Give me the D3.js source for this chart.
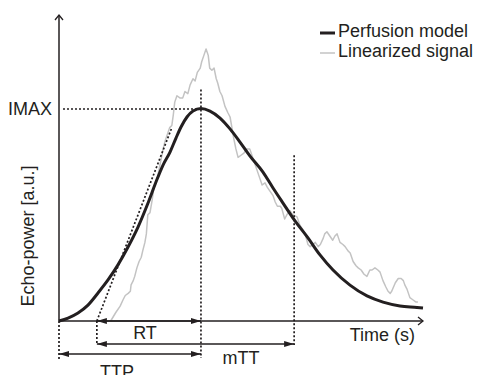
<!DOCTYPE html>
<html>
<head>
<meta charset="utf-8">
<script src="https://cdn.jsdelivr.net/npm/d3@7.9.0/dist/d3.min.js"></script>
<style>
  body { margin: 0; background: #fff; }
  svg text { font-family: "Liberation Sans", Arial, Helvetica, sans-serif; font-size: 18px; fill: #231f20; }
</style>
</head>
<body>
<svg id="chart" width="478" height="375"></svg>
<script>
// perfusion model
const modelTime = [0, 1.24, 2.61, 3.98, 5.36, 6.73, 8.1, 9.48, 10.85, 12.23, 13.32, 14.29, 15.25, 16.07, 16.76,
  17.58, 18.41, 19.5, 20.74, 22.12, 23.49, 24.86, 26.24, 28.02, 29.4, 30.77, 32.42, 34.2, 35.85, 37.64,
  39.97, 42.31, 44.51, 46.84, 49.18, 50];
const modelValue = [0, 0.014, 0.038, 0.075, 0.132, 0.193, 0.264, 0.348, 0.442, 0.555, 0.654, 0.734, 0.795, 0.861, 0.913,
  0.96, 0.988, 1.0, 0.988, 0.955, 0.904, 0.842, 0.776, 0.701, 0.626, 0.555, 0.471, 0.391, 0.311, 0.24,
  0.169, 0.118, 0.089, 0.071, 0.064, 0.061];

// linearized signal
const signalTime = [7.1, 7.8, 8.4, 8.8, 9.1, 9.5, 9.8, 9.9, 10.2, 10.4, 10.7, 11.0, 11.3, 11.5, 11.8, 12.0, 12.2, 12.5,
  12.8, 13.0, 13.5, 13.9, 14.3, 14.6, 14.8, 15.2, 15.5, 15.7, 15.9, 16.2, 16.6, 17.0, 17.3, 17.7, 18.0, 18.4,
  18.7, 19.0, 19.4, 19.6, 19.9, 20.2, 20.5, 20.7, 21.0, 21.3, 21.6, 21.8, 22.1, 22.4, 22.8, 23.2, 23.5, 23.8,
  24.0, 24.3, 24.6, 25.0, 25.4, 25.8, 26.2, 26.7, 27.2, 27.6, 27.9, 28.3, 28.6, 29.0, 29.4, 29.7, 30.0, 30.4,
  30.6, 31.0, 31.3, 31.7, 32.1, 32.7, 33.1, 33.5, 33.8, 34.2, 34.5, 34.9, 35.2, 35.6, 35.9, 36.3, 36.5, 36.8,
  37.2, 37.6, 37.9, 38.2, 38.6, 39.0, 39.3, 39.7, 40.0, 40.4, 40.8, 41.1, 41.5, 41.9, 42.3, 42.7, 43.0, 43.4,
  43.8, 44.1, 44.5, 44.9, 45.2, 45.5, 45.7, 46.2, 46.6, 47.0, 47.3, 47.5, 47.8, 48.2, 48.6, 49.0, 49.3];
const signalValue = [0.00, 0.04, 0.07, 0.10, 0.12, 0.13, 0.14, 0.17, 0.19, 0.21, 0.25, 0.28, 0.30, 0.33, 0.37, 0.41, 0.50, 0.51,
  0.57, 0.62, 0.67, 0.74, 0.81, 0.85, 0.87, 0.91, 0.92, 0.97, 1.03, 1.06, 1.05, 1.05, 1.08, 1.07, 1.11, 1.14,
  1.13, 1.17, 1.19, 1.22, 1.25, 1.28, 1.25, 1.19, 1.18, 1.19, 1.14, 1.12, 1.08, 1.06, 1.01, 0.98, 0.96, 0.90,
  0.86, 0.81, 0.77, 0.78, 0.79, 0.81, 0.81, 0.76, 0.71, 0.67, 0.64, 0.65, 0.63, 0.61, 0.59, 0.56, 0.54, 0.54,
  0.53, 0.48, 0.50, 0.52, 0.50, 0.49, 0.45, 0.43, 0.41, 0.36, 0.35, 0.36, 0.37, 0.35, 0.36, 0.39, 0.41, 0.42,
  0.40, 0.38, 0.40, 0.41, 0.37, 0.36, 0.35, 0.33, 0.32, 0.28, 0.26, 0.25, 0.24, 0.22, 0.21, 0.24, 0.24, 0.25,
  0.24, 0.23, 0.19, 0.16, 0.14, 0.13, 0.14, 0.18, 0.20, 0.20, 0.19, 0.17, 0.15, 0.11, 0.10, 0.09, 0.09];

// annotation values
const imax = 1;
const ttp = 19.5;
const rtStart = 5.2;
const mttEnd = 32.3;
const tangentTime = [5.2, 15.5];
const tangentValue = [0, 0.91];
const legendLabels = ["Perfusion model", "Linearized signal"];

const ink = "#231f20";
const grey = "#c3c3c3";

const x = d3.scaleLinear().domain([0, 50]).range([59, 423]);
const y = d3.scaleLinear().domain([0, 1.44]).range([321, 15]);

const svg = d3.select("#chart");
const defs = svg.append("defs");

defs.append("marker")
  .attr("id", "head")
  .attr("markerUnits", "userSpaceOnUse")
  .attr("markerWidth", 10).attr("markerHeight", 6)
  .attr("refX", 10).attr("refY", 3)
  .attr("orient", "auto-start-reverse")
  .append("path").attr("d", "M0,0L10,3L0,6Z").attr("fill", ink);

defs.append("marker")
  .attr("id", "chev")
  .attr("markerUnits", "userSpaceOnUse")
  .attr("markerWidth", 8).attr("markerHeight", 10)
  .attr("refX", 6).attr("refY", 5)
  .attr("orient", "auto")
  .append("path").attr("d", "M1,1L6,5L1,9")
  .attr("fill", "none").attr("stroke", ink).attr("stroke-width", 1.3);

const line = d3.line().x(d => x(d[0])).y(d => y(d[1]));

// grey signal
svg.append("path")
  .datum(d3.zip(signalTime, signalValue))
  .attr("d", line)
  .attr("fill", "none")
  .attr("stroke", grey)
  .attr("stroke-width", 1.5)
  .attr("stroke-linejoin", "round");

// dotted guides
const y0 = y(0);
const dotted = [
  [x(0) + 4, Math.round(y(imax)), x(ttp), Math.round(y(imax))],
  [x(ttp), y(1.09), x(ttp), y0 + 37],
  [x(mttEnd), y(0.78), x(mttEnd), y0 + 24],
  [x(0), y0, x(0), y0 + 38],
  [x(rtStart), y0, x(rtStart), y0 + 24],
  [x(tangentTime[0]), y(tangentValue[0]), x(tangentTime[1]), y(tangentValue[1])]
];
svg.append("g").selectAll("line")
  .data(dotted)
  .join("line")
  .attr("x1", d => d[0]).attr("y1", d => d[1])
  .attr("x2", d => d[2]).attr("y2", d => d[3])
  .attr("stroke", ink)
  .attr("stroke-width", 1.7)
  .attr("stroke-dasharray", "2,2");

// model curve
svg.append("path")
  .datum(d3.zip(modelTime, modelValue))
  .attr("d", line.curve(d3.curveMonotoneX))
  .attr("fill", "none")
  .attr("stroke", ink)
  .attr("stroke-width", 3);

// axes
svg.append("line")
  .attr("x1", x(0)).attr("y1", y0).attr("x2", x(0)).attr("y2", y(1.44))
  .attr("stroke", ink).attr("stroke-width", 1.5).attr("marker-end", "url(#chev)");
svg.append("line")
  .attr("x1", x(0)).attr("y1", y0).attr("x2", x(50)).attr("y2", y0)
  .attr("stroke", ink).attr("stroke-width", 1.5).attr("marker-end", "url(#chev)");

// interval arrows
const spans = [
  [rtStart, ttp, y0],
  [rtStart, mttEnd, y0 + 23],
  [0, ttp, y0 + 33]
];
svg.append("g").selectAll("line")
  .data(spans)
  .join("line")
  .attr("x1", d => x(d[0])).attr("x2", d => x(d[1]))
  .attr("y1", d => d[2]).attr("y2", d => d[2])
  .attr("stroke", ink).attr("stroke-width", 1.3)
  .attr("marker-start", "url(#head)").attr("marker-end", "url(#head)");

// labels
svg.append("text").attr("x", 145).attr("y", 339).attr("text-anchor", "middle").text("RT");
svg.append("text").attr("x", 241).attr("y", 364).attr("text-anchor", "middle").text("mTT");
svg.append("text").attr("x", 117).attr("y", 378).attr("text-anchor", "middle").text("TTP");
svg.append("text").attr("x", 415).attr("y", 341).attr("text-anchor", "end").text("Time (s)");
svg.append("text").attr("x", 52).attr("y", y(imax) + 6).attr("text-anchor", "end").text("IMAX");
svg.append("text")
  .attr("transform", "translate(34,236) rotate(-90)")
  .attr("text-anchor", "middle")
  .text("Echo-power [a.u.]");

// legend
const legend = svg.append("g").attr("transform", "translate(320,37)");
legend.selectAll("line")
  .data(legendLabels)
  .join("line")
  .attr("x1", 0).attr("x2", 15)
  .attr("y1", (d, i) => i * 20 - 4).attr("y2", (d, i) => i * 20 - 4)
  .attr("stroke", (d, i) => i === 0 ? ink : grey)
  .attr("stroke-width", (d, i) => i === 0 ? 3 : 1.5);
legend.selectAll("text")
  .data(legendLabels)
  .join("text")
  .attr("x", 18)
  .attr("y", (d, i) => i * 20)
  .text(d => d);
</script>
</body>
</html>
